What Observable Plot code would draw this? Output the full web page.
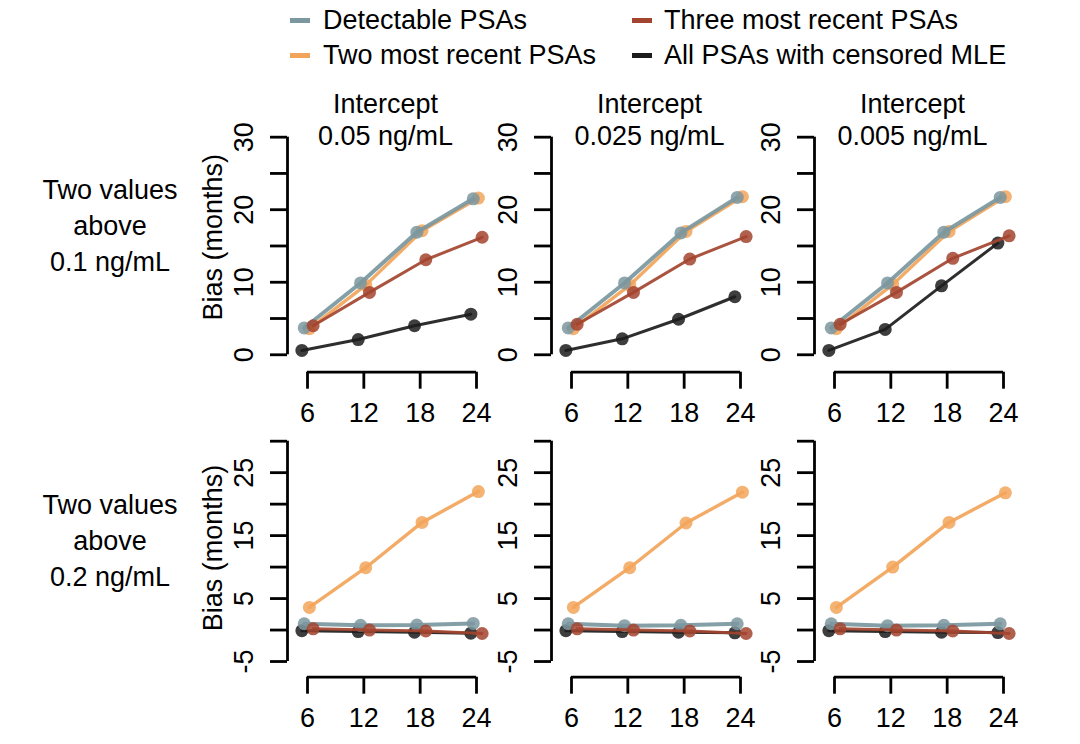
<!DOCTYPE html>
<html>
<head>
<meta charset="utf-8">
<script src="https://cdn.jsdelivr.net/npm/d3@7"></script>
<script src="https://cdn.jsdelivr.net/npm/@observablehq/plot@0.6"></script>
<style>
  html, body { margin: 0; padding: 0; background: #fff; }
  #root { position: relative; width: 1080px; height: 744px; background: #fff; overflow: hidden;
          font-family: "Liberation Sans", Arial, Helvetica, sans-serif; color: #000; }
  .rowlab { position: absolute; left: 0; width: 220px; text-align: center; font-size: 27px; line-height: 36px; }
  .leg { position: absolute; font-size: 27px; line-height: 30px; white-space: nowrap; }
  .sw { position: absolute; width: 20px; height: 5px; }
</style>
</head>
<body>
<div id="root"></div>
<script>
// ---------- data ----------
const months = [6, 12, 18, 24];
const seriesNames = ["Detectable PSAs", "Two most recent PSAs", "Three most recent PSAs", "All PSAs with censored MLE"];
const seriesColors = ["#7b979f", "#f2a55a", "#a3442f", "#1c1c1c"];
const seriesOffsets = [-0.35, 0.2, 0.6, -0.6];           // horizontal dodge of each series
const drawOrder = [3, 1, 0, 2];                           // black, orange, gray, red
const interceptLabels = ["0.05 ng/mL", "0.025 ng/mL", "0.005 ng/mL"];
const rowLabels = [["Two values", "above", "0.1 ng/mL"], ["Two values", "above", "0.2 ng/mL"]];
const xTicks = [6, 12, 18, 24];
const yTicksTop = [0, 5, 10, 15, 20, 25, 30];
const yLabelsTop = [0, 10, 20, 30];
const yTicksBottom = [-5, 0, 5, 10, 15, 20, 25, 30];
const yLabelsBottom = [-5, 5, 15, 25];

// Row 1: two values above 0.1 ng/mL
const detect_r1 = [[3.7, 9.9, 16.9, 21.5], [3.7, 9.9, 16.8, 21.7], [3.7, 9.9, 16.9, 21.7]];
const two_r1    = [[3.6, 9.6, 17.1, 21.6], [3.6, 9.6, 17.0, 21.8], [3.6, 9.7, 17.0, 21.8]];
const three_r1  = [[4.0, 8.6, 13.1, 16.2], [4.2, 8.6, 13.2, 16.3], [4.2, 8.6, 13.3, 16.4]];
const all_r1    = [[0.6, 2.1, 4.0, 5.6],   [0.6, 2.2, 4.9, 8.0],   [0.6, 3.5, 9.5, 15.4]];
// Row 2: two values above 0.2 ng/mL
const detect_r2 = [[1.0, 0.75, 0.8, 1.05], [1.0, 0.7, 0.75, 1.0], [1.0, 0.7, 0.75, 1.0]];
const two_r2    = [[3.6, 9.9, 17.1, 22.0], [3.6, 9.9, 17.0, 21.9], [3.6, 10.0, 17.1, 21.8]];
const three_r2  = [[0.2, 0.0, -0.15, -0.55], [0.2, 0.0, -0.15, -0.55], [0.2, 0.0, -0.15, -0.55]];
const all_r2    = [[-0.1, -0.25, -0.35, -0.5], [-0.1, -0.25, -0.35, -0.45], [-0.1, -0.25, -0.35, -0.4]];

const rowData = [[detect_r1, two_r1, three_r1, all_r1], [detect_r2, two_r2, three_r2, all_r2]];

// ---------- layout ----------
const FONT = '"Liberation Sans", Arial, Helvetica, sans-serif';
const frameLeft = [287, 550.5, 814];
const marginLeft = 95, marginRight = 8, frameW = 196;
const xDomain = [3.87, 24.745];
const rows = [
  { top: 85, marginTop: 49.5, frameH: 237.2, yDomain: [-2.4, 30.3], yTicks: yTicksTop, yLabels: yLabelsTop, axisSpan: [0, 30], ylabDy: -16.4 },
  { top: 400, marginTop: 34.4, frameH: 242.3, yDomain: [-7.49, 31], yTicks: yTicksBottom, yLabels: yLabelsBottom, axisSpan: [-5, 30], ylabDy: -8 }
];
const marginBottom = 62;
const lineWidths = [4, 3.4, 3, 3];

const root = document.getElementById("root");

function panel(r, c) {
  const R = rows[r];
  const values = rowData[r];
  const marks = [];
  // axes
  marks.push(Plot.ruleX([xDomain[0]], { y1: R.axisSpan[0], y2: R.axisSpan[1], stroke: "#000", strokeWidth: 2.8 }));
  marks.push(Plot.axisY({ ticks: R.yTicks, tickSize: 17, tickFormat: () => "", label: null, stroke: "#000", strokeWidth: 2.8 }));
  marks.push(Plot.text(R.yLabels, { y: d => d, text: d => String(d), frameAnchor: "left", dx: -43, rotate: -90,
    textAnchor: "middle", lineAnchor: "middle", fontSize: 27 }));
  marks.push(Plot.ruleY([R.yDomain[0]], { x1: xTicks[0], x2: xTicks[xTicks.length - 1], stroke: "#000", strokeWidth: 2.8 }));
  marks.push(Plot.axisX({ ticks: xTicks, tickSize: 17, tickPadding: 14, label: null, fontSize: 27, stroke: "#000", strokeWidth: 2.8 }));
  if (c === 0) {
    marks.push(Plot.text(["Bias (months)"], { text: d => d, frameAnchor: "left", dx: -74, dy: R.ylabDy, rotate: -90,
      textAnchor: "middle", lineAnchor: "middle", fontSize: 27 }));
  }
  if (r === 0) {
    marks.push(Plot.text(["Intercept\n" + interceptLabels[c]], { text: d => d, frameAnchor: "top", dy: -16.5,
      textAnchor: "middle", lineAnchor: "middle", lineHeight: 1.185, fontSize: 27 }));
  }
  // series
  for (const s of drawOrder) {
    const pts = months.map((m, i) => ({ month: m, x: m + seriesOffsets[s], y: values[s][c][i], series: seriesNames[s] }));
    marks.push(Plot.line(pts, { x: "x", y: "y", stroke: "series", strokeWidth: lineWidths[s], strokeOpacity: 0.92 }));
    marks.push(Plot.dot(pts, { x: "x", y: "y", fill: "series", r: 6.5, fillOpacity: 0.85, stroke: "none" }));
  }
  const chart = Plot.plot({
    width: marginLeft + frameW + marginRight,
    height: R.marginTop + R.frameH + marginBottom,
    marginLeft, marginRight, marginTop: R.marginTop, marginBottom,
    x: { domain: xDomain },
    y: { domain: R.yDomain },
    color: { domain: seriesNames, range: seriesColors },
    style: { fontFamily: FONT, fontSize: "27px", background: "transparent", overflow: "visible", color: "#000" },
    marks
  });
  chart.style.position = "absolute";
  chart.style.left = (frameLeft[c] - marginLeft) + "px";
  chart.style.top = R.top + "px";
  root.appendChild(chart);
}

for (let r = 0; r < 2; r++) for (let c = 0; c < 3; c++) panel(r, c);

// row labels
const rowCenters = [190, 505];
rowLabels.forEach((lines, r) => {
  const d = document.createElement("div");
  d.className = "rowlab";
  d.style.top = (rowCenters[r] - 18) + "px";
  d.innerHTML = lines.join("<br>");
  root.appendChild(d);
});

// legend (column-wise, two columns)
const legCols = [{ sw: 290, tx: 323 }, { sw: 632, tx: 664 }];
const legRows = [20, 55];
seriesNames.forEach((name, i) => {
  const col = legCols[Math.floor(i / 2)], cy = legRows[i % 2];
  const sw = document.createElement("div");
  sw.className = "sw";
  sw.style.left = col.sw + "px"; sw.style.top = (cy - 2.5) + "px";
  sw.style.background = seriesColors[i];
  root.appendChild(sw);
  const t = document.createElement("div");
  t.className = "leg";
  t.style.left = col.tx + "px"; t.style.top = (cy - 15) + "px";
  t.textContent = name;
  root.appendChild(t);
});
</script>
</body>
</html>
